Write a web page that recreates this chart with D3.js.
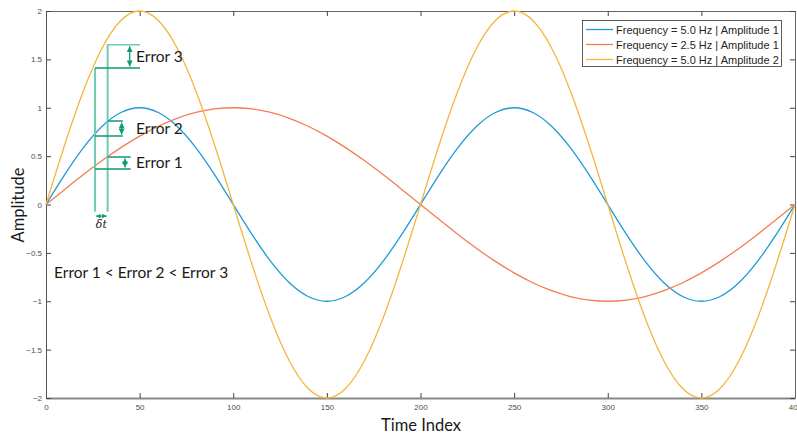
<!DOCTYPE html>
<html>
<head>
<meta charset="utf-8">
<script src="https://cdn.jsdelivr.net/npm/d3@7"></script>
<style>
  body { margin: 0; background: #fff; }
  svg { display: block; }
  .tick text { font-family: "Liberation Sans", Arial, sans-serif; font-size: 8px; fill: #4d4d4d; }
  .note { font-family: Lato, "Open Sans", sans-serif; fill: #1a1a1a; }
</style>
</head>
<body>
<svg id="chart" width="797" height="437"></svg>
<script>
// time index samples (every 10 steps)
const timeIndex = [0, 10, 20, 30, 40, 50, 60, 70, 80, 90, 100, 110, 120, 130, 140, 150, 160, 170, 180, 190,
  200, 210, 220, 230, 240, 250, 260, 270, 280, 290, 300, 310, 320, 330, 340, 350, 360, 370, 380, 390, 400];

// Frequency = 5.0 Hz | Amplitude 1
const blueValues = [0, 0.309, 0.588, 0.809, 0.951, 1, 0.951, 0.809, 0.588, 0.309, 0, -0.309, -0.588, -0.809, -0.951, -1, -0.951, -0.809, -0.588, -0.309,
  0, 0.309, 0.588, 0.809, 0.951, 1, 0.951, 0.809, 0.588, 0.309, 0, -0.309, -0.588, -0.809, -0.951, -1, -0.951, -0.809, -0.588, -0.309, 0];
// Frequency = 2.5 Hz | Amplitude 1
const orangeValues = [0, 0.156, 0.309, 0.454, 0.588, 0.707, 0.809, 0.891, 0.951, 0.988, 1, 0.988, 0.951, 0.891, 0.809, 0.707, 0.588, 0.454, 0.309, 0.156,
  0, -0.156, -0.309, -0.454, -0.588, -0.707, -0.809, -0.891, -0.951, -0.988, -1, -0.988, -0.951, -0.891, -0.809, -0.707, -0.588, -0.454, -0.309, -0.156, 0];
// Frequency = 5.0 Hz | Amplitude 2
const yellowValues = [0, 0.618, 1.176, 1.618, 1.902, 2, 1.902, 1.618, 1.176, 0.618, 0, -0.618, -1.176, -1.618, -1.902, -2, -1.902, -1.618, -1.176, -0.618,
  0, 0.618, 1.176, 1.618, 1.902, 2, 1.902, 1.618, 1.176, 0.618, 0, -0.618, -1.176, -1.618, -1.902, -2, -1.902, -1.618, -1.176, -0.618, 0];

const seriesNames = ['Frequency = 5.0 Hz | Amplitude 1', 'Frequency = 2.5 Hz | Amplitude 1', 'Frequency = 5.0 Hz | Amplitude 2'];
const xTicks = [0, 50, 100, 150, 200, 250, 300, 350, 400];
const yTicks = [-2, -1.5, -1, -0.5, 0, 0.5, 1, 1.5, 2];

// annotation (data units)
const deltaT = [26.2, 32.9];
const errorLabels = ['Error 1', 'Error 2', 'Error 3'];
const errorLow = [0.367, 0.708, 1.411];
const errorHigh = [0.491, 0.863, 1.652];
const errorLineEnd = [45.2, 41, 50.2];
const errorArrowAt = [42.2, 40.4, 44.7];

const svg = d3.select('#chart');
const plotLeft = 46, plotRight = 795, plotTop = 11, plotBottom = 398;

const x = d3.scaleLinear().domain([0, 400]).range([plotLeft, plotRight]);
const y = d3.scaleLinear().domain([-2, 2]).range([plotBottom, plotTop]);

const colors = ['#1f9ad8', '#f47c52', '#f4b63c'];
const seriesValues = [blueValues, orangeValues, yellowValues];

// axes box, MATLAB style inward ticks on all sides
const fmt = d => d3.format('~g')(d);
svg.append('g').attr('transform', `translate(0,${plotBottom})`)
  .call(d3.axisBottom(x).tickValues(xTicks).tickFormat(fmt).tickSizeInner(-5).tickSizeOuter(0).tickPadding(6))
  .call(g => g.select('.domain').attr('stroke', '#888').attr('stroke-width', 2));
svg.append('g').attr('transform', `translate(0,${plotTop})`)
  .call(d3.axisTop(x).tickValues(xTicks).tickFormat('').tickSizeInner(-5).tickSizeOuter(0))
  .call(g => g.select('.domain').attr('stroke', '#666'));
svg.append('g').attr('transform', `translate(${plotLeft},0)`)
  .call(d3.axisLeft(y).tickValues(yTicks).tickFormat(fmt).tickSizeInner(-5).tickSizeOuter(0).tickPadding(4))
  .call(g => g.select('.domain').attr('stroke', '#555'));
svg.append('g').attr('transform', `translate(${plotRight},0)`)
  .call(d3.axisRight(y).tickValues(yTicks).tickFormat('').tickSizeInner(-5).tickSizeOuter(0))
  .call(g => g.select('.domain').attr('stroke', '#666'));
svg.selectAll('.tick line').attr('stroke', '#444');

// curves
const line = d3.line()
  .x((d, i) => x(timeIndex[i]))
  .y(d => y(d))
  .curve(d3.curveNatural);

svg.append('g').selectAll('path')
  .data(seriesValues)
  .enter()
  .append('path')
  .attr('d', d => line(d))
  .attr('fill', 'none')
  .attr('stroke', (d, i) => colors[i])
  .attr('stroke-width', 1.3);

// annotation
const green = '#0a9b70';
const lightGreen = '#6dcbb2';
const defs = svg.append('defs');
function addMarker(id, size) {
  defs.append('marker').attr('id', id).attr('viewBox', '0 0 10 10')
    .attr('refX', 10).attr('refY', 5)
    .attr('markerUnits', 'userSpaceOnUse')
    .attr('markerWidth', size).attr('markerHeight', size)
    .attr('orient', 'auto-start-reverse')
    .append('path').attr('d', 'M0,0L10,5L0,10Z').attr('fill', green);
}
addMarker('arr', 6);
addMarker('arrSmall', 4.5);

const ann = svg.append('g');
const bottomVal = -0.074;
ann.append('line')
  .attr('x1', x(deltaT[0])).attr('x2', x(deltaT[0]))
  .attr('y1', y(errorLow[2])).attr('y2', y(bottomVal))
  .attr('stroke', lightGreen).attr('stroke-width', 2);
ann.append('line')
  .attr('x1', x(deltaT[1])).attr('x2', x(deltaT[1]))
  .attr('y1', y(errorHigh[2])).attr('y2', y(bottomVal))
  .attr('stroke', lightGreen).attr('stroke-width', 2);

errorLabels.forEach((label, i) => {
  ann.append('line')
    .attr('x1', x(deltaT[1])).attr('x2', x(errorLineEnd[i]))
    .attr('y1', y(errorHigh[i])).attr('y2', y(errorHigh[i]))
    .attr('stroke', i === 2 ? lightGreen : green).attr('stroke-width', 1.5);
  ann.append('line')
    .attr('x1', x(deltaT[0])).attr('x2', x(errorLineEnd[i]))
    .attr('y1', y(errorLow[i])).attr('y2', y(errorLow[i]))
    .attr('stroke', green).attr('stroke-width', 1.5);
  ann.append('line')
    .attr('x1', x(errorArrowAt[i])).attr('x2', x(errorArrowAt[i]))
    .attr('y1', y(errorHigh[i]) + 1.5).attr('y2', y(errorLow[i]) - 1.5)
    .attr('stroke', green).attr('stroke-width', 1.3)
    .attr('marker-start', 'url(#arr)').attr('marker-end', 'url(#arr)');
  ann.append('text')
    .attr('class', 'note')
    .attr('x', 136)
    .attr('y', y((errorHigh[i] + errorLow[i]) / 2) + 5.5)
    .attr('font-size', 15.5)
    .text(label);
});

// delta t arrow
const arrowVal = -0.12;
ann.append('line')
  .attr('x1', x(deltaT[0]) + 1).attr('x2', x(deltaT[1]) - 1)
  .attr('y1', y(arrowVal)).attr('y2', y(arrowVal))
  .attr('stroke', green).attr('stroke-width', 1.2)
  .attr('marker-start', 'url(#arrSmall)').attr('marker-end', 'url(#arrSmall)');
ann.append('text')
  .attr('x', (x(deltaT[0]) + x(deltaT[1])) / 2)
  .attr('y', 228)
  .attr('text-anchor', 'middle')
  .attr('font-family', '"DejaVu Serif", serif')
  .attr('font-style', 'italic')
  .attr('font-size', 11)
  .attr('fill', '#222')
  .text('δt');

svg.append('text')
  .attr('class', 'note')
  .attr('x', 54).attr('y', 278)
  .attr('font-size', 15.5)
  .text('Error 1 < Error 2 < Error 3');

// axis titles
svg.append('text')
  .attr('class', 'note')
  .attr('x', 421).attr('y', 431)
  .attr('text-anchor', 'middle')
  .attr('font-size', 16.5)
  .text('Time Index');
svg.append('text')
  .attr('class', 'note')
  .attr('transform', 'translate(24,205) rotate(-90)')
  .attr('text-anchor', 'middle')
  .attr('font-size', 16.5)
  .text('Amplitude');

// legend
const legend = svg.append('g');
legend.append('rect')
  .attr('x', 582.5).attr('y', 20.5).attr('width', 199).attr('height', 46)
  .attr('fill', '#fff').attr('stroke', '#333').attr('stroke-width', 0.8);
seriesNames.forEach((name, i) => {
  const ly = 29.5 + i * 15;
  legend.append('line')
    .attr('x1', 586).attr('x2', 613).attr('y1', ly).attr('y2', ly)
    .attr('stroke', colors[i]).attr('stroke-width', 1.3);
  legend.append('text')
    .attr('x', 616).attr('y', ly + 4)
    .attr('font-family', '"Liberation Sans", Arial, sans-serif')
    .attr('font-size', 11)
    .attr('fill', '#262626')
    .text(name);
});
</script>
</body>
</html>
